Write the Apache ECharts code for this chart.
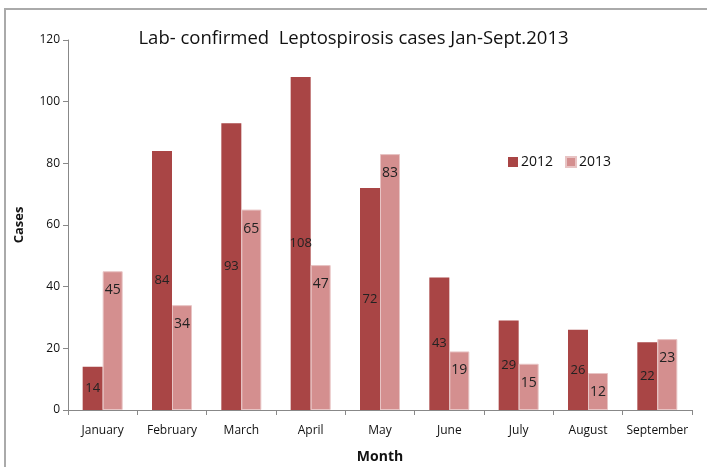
<!DOCTYPE html>
<html>
    <head>
        <meta charset="utf-8">
        <title>Leptospirosis cases</title>
        <script src="https://cdn.jsdelivr.net/npm/echarts@6/dist/echarts.min.js"></script>
        <style>
            html, body { margin: 0; padding: 0; background: #fff; }
            #chart1 { width: 707px; height: 467px; }
        </style>
    </head>
    <body>
        <div id="chart1"></div>
        <script type="text/javascript">
            // 数据
            var months = ['January', 'February', 'March', 'April', 'May', 'June', 'July', 'August', 'September'];
            var cases2012 = [14, 84, 93, 108, 72, 43, 29, 26, 22];
            var cases2013 = [45, 34, 65, 47, 83, 19, 15, 12, 23];
            var yTicks = [0, 20, 40, 60, 80, 100, 120];

            var font = '"Open Sans", "Liberation Sans", sans-serif';
            var myChart1 = echarts.init(document.getElementById('chart1'));

            myChart1.setOption({
                animation: false,
                textStyle: { fontFamily: font },
                graphic: [{
                    type: 'rect',
                    shape: { x: 5, y: 9, width: 720, height: 480 },
                    style: { fill: 'none', stroke: '#aaaaaa', lineWidth: 2 },
                    silent: true
                }],
                title: {
                    text: 'Lab- confirmed  Leptospirosis cases Jan-Sept.2013',
                    left: 'center',
                    top: 24,
                    textStyle: { fontSize: 18.5, fontWeight: 'normal', color: '#111', fontFamily: font }
                },
                legend: {
                    data: ['2012', '2013'],
                    left: 503,
                    top: 150,
                    itemWidth: 10,
                    itemHeight: 10,
                    itemGap: 12,
                    icon: 'rect',
                    textStyle: { fontSize: 14, color: '#111', padding: [0, 0, 0, -2] }
                },
                grid: { left: 68, right: 15, top: 40, bottom: 57, containLabel: false, outerBoundsMode: 'none' },
                xAxis: {
                    type: 'category',
                    data: months,
                    name: 'Month',
                    nameLocation: 'middle',
                    nameGap: 40,
                    nameTextStyle: { fontSize: 14, fontWeight: 'bold', color: '#111' },
                    axisLine: { lineStyle: { color: '#888' } },
                    axisTick: { show: true, length: 5, lineStyle: { color: '#888' } },
                    axisLabel: { fontSize: 12, color: '#111', margin: 15, interval: 0 }
                },
                yAxis: {
                    type: 'value',
                    min: yTicks[0],
                    max: yTicks[yTicks.length - 1],
                    interval: yTicks[1] - yTicks[0],
                    name: 'Cases',
                    nameLocation: 'middle',
                    nameGap: 42,
                    nameTextStyle: { fontSize: 13, fontWeight: 'bold', color: '#111' },
                    splitLine: { show: false },
                    axisLine: { show: true, lineStyle: { color: '#888' } },
                    axisTick: { show: true, length: 5, lineStyle: { color: '#888' } },
                    axisLabel: { fontSize: 12, color: '#111', margin: 8 }
                },
                series: [{
                    name: '2012',
                    type: 'bar',
                    data: cases2012,
                    barWidth: 20,
                    barGap: '0%',
                    itemStyle: { color: '#a94545' },
                    label: { show: true, position: 'inside', fontSize: 13, color: '#222' }
                }, {
                    name: '2013',
                    type: 'bar',
                    data: cases2013,
                    barWidth: 20,
                    itemStyle: { color: '#d48f8f', borderColor: '#e8c4c4', borderWidth: 1 },
                    label: { show: true, position: 'insideTop', distance: 12, fontSize: 14, color: '#222' }
                }]
            });
        </script>
    </body>
</html>
